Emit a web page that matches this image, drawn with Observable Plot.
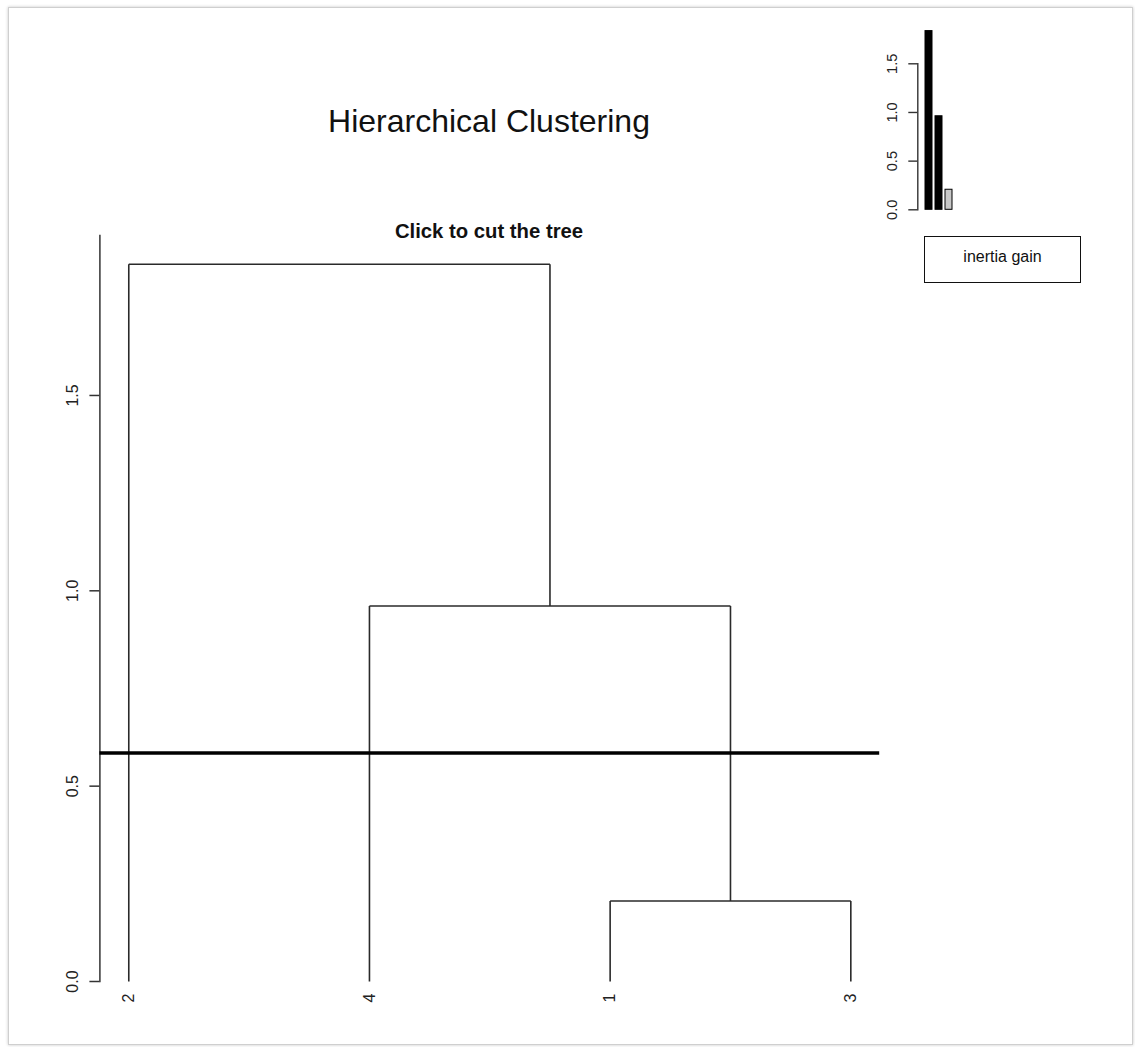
<!DOCTYPE html>
<html><head><meta charset="utf-8">
<script src="https://cdn.jsdelivr.net/npm/d3@7"></script>
<script src="https://cdn.jsdelivr.net/npm/@observablehq/plot@0.6"></script>
<style>
body{margin:0;background:#fff;font-family:"Liberation Sans",Arial,sans-serif;}
#page{position:relative;width:1135px;height:1047px;overflow:hidden;background:#fff;}
#main,#inset{position:absolute;top:0;}
#main{left:0;}
#inset{left:860px;}
.t{position:absolute;white-space:nowrap;color:#111;line-height:1;}
#title{left:0;width:978px;text-align:center;top:104.9px;font-size:32px;}
#subtitle{left:0;width:978px;text-align:center;top:220.8px;font-size:20.3px;font-weight:bold;}
#legend{position:absolute;left:924px;top:236px;width:157px;height:47px;border:1px solid #111;box-sizing:border-box;}
#legendText{left:924px;width:157px;text-align:center;top:249px;font-size:16px;}
#border{position:absolute;left:8px;top:7px;width:1125px;height:1038px;box-sizing:border-box;border:1px solid #cfcfcf;box-shadow:0 0 3px rgba(0,0,0,0.22);pointer-events:none;}
</style></head>
<body>
<div id="page">
  <div id="main"></div>
  <div id="inset"></div>
  <div class="t" id="title">Hierarchical Clustering</div>
  <div class="t" id="subtitle">Click to cut the tree</div>
  <div id="legend"></div>
  <div class="t" id="legendText">inertia gain</div>
  <div id="border"></div>
</div>
<script>
// ---- data ----
const leafOrder = [2, 4, 1, 3];            // observation order along the x axis
const mergeA = [-1, -4, -2];               // hclust merge matrix, column 1
const mergeB = [-3, 1, 2];                 // hclust merge matrix, column 2
const mergeHeights = [0.206, 0.961, 1.836];
const cutHeight = 0.585;
const yTicks = [0, 0.5, 1.0, 1.5];
const inertiaGain = [1.836, 0.961, 0.206];
const gainIndex = [1, 2, 3];
const insetTicks = [0, 0.5, 1.0, 1.5];

// ---- derive dendrogram segments ----
const n = leafOrder.length;
const leafPos = {};
leafOrder.forEach((obs, i) => leafPos[obs] = i + 1);
const nodeX = [], nodeH = [];
const posOf = c => c < 0 ? leafPos[-c] : nodeX[c - 1];
const hOf = c => c < 0 ? 0 : nodeH[c - 1];
const segments = [];
mergeA.forEach((a, j) => {
  const b = mergeB[j], h = mergeHeights[j];
  const xa = posOf(a), xb = posOf(b);
  segments.push({x1: xa, y1: hOf(a), x2: xa, y2: h});
  segments.push({x1: xb, y1: hOf(b), x2: xb, y2: h});
  segments.push({x1: xa, y1: h, x2: xb, y2: h});
  nodeX.push((xa + xb) / 2);
  nodeH.push(h);
});
const leaves = leafOrder.map((obs, i) => ({pos: i + 1, label: String(obs)}));
const maxH = d3.max(mergeHeights);
const font = '"Liberation Sans", Arial, sans-serif';

const main = Plot.plot({
  width: 1135, height: 1047,
  marginLeft: 99.4, marginRight: 255.8, marginTop: 235, marginBottom: 66,
  x: {type: "linear", domain: [1 - 0.04 * (n - 1), n + 0.04 * (n - 1)], axis: null},
  y: {domain: [0, maxH * 1.04], axis: null},
  style: {background: "transparent", fontFamily: font, color: "#222", overflow: "visible"},
  marks: [
    Plot.frame({anchor: "left", stroke: "#333", strokeWidth: 1.5}),
    Plot.axisY(yTicks, {tickSize: 10, tickPadding: 12, tickRotate: -90, fontSize: 16,
      tickFormat: d3.format(".1f"), label: null, stroke: "#333", strokeWidth: 1.5}),
    Plot.link(segments, {x1: "x1", y1: "y1", x2: "x2", y2: "y2", stroke: "#2a2a2a", strokeWidth: 1.6}),
    Plot.ruleY([cutHeight], {stroke: "#000", strokeWidth: 3.6}),
    Plot.text(leaves, {x: "pos", y: () => 0, text: "label", rotate: -90, textAnchor: "end",
      dy: 12, fontSize: 16, fill: "#222"})
  ]
});
document.getElementById("main").appendChild(main);

const inset = Plot.plot({
  width: 240, height: 300,
  marginLeft: 57.3, marginRight: 100, marginTop: 63.3, marginBottom: 90.7,
  x: {type: "band", domain: gainIndex, range: [60.15, 96.05], padding: 0.294, axis: null},
  y: {domain: [0, 1.5], axis: null},
  style: {background: "transparent", fontFamily: font, color: "#222", overflow: "visible"},
  marks: [
    Plot.frame({anchor: "left", stroke: "#333", strokeWidth: 1.4}),
    Plot.axisY(insetTicks, {tickSize: 9, tickPadding: 12, tickRotate: -90, fontSize: 14.6,
      tickFormat: d3.format(".1f"), label: null, stroke: "#333", strokeWidth: 1.4}),
    Plot.barY(inertiaGain, {x: (d, i) => gainIndex[i], y: d => d,
      fill: d => d > cutHeight ? "#000" : "#c8c8c8", stroke: "#000", strokeWidth: 1})
  ]
});
document.getElementById("inset").appendChild(inset);
</script>
</body></html>
